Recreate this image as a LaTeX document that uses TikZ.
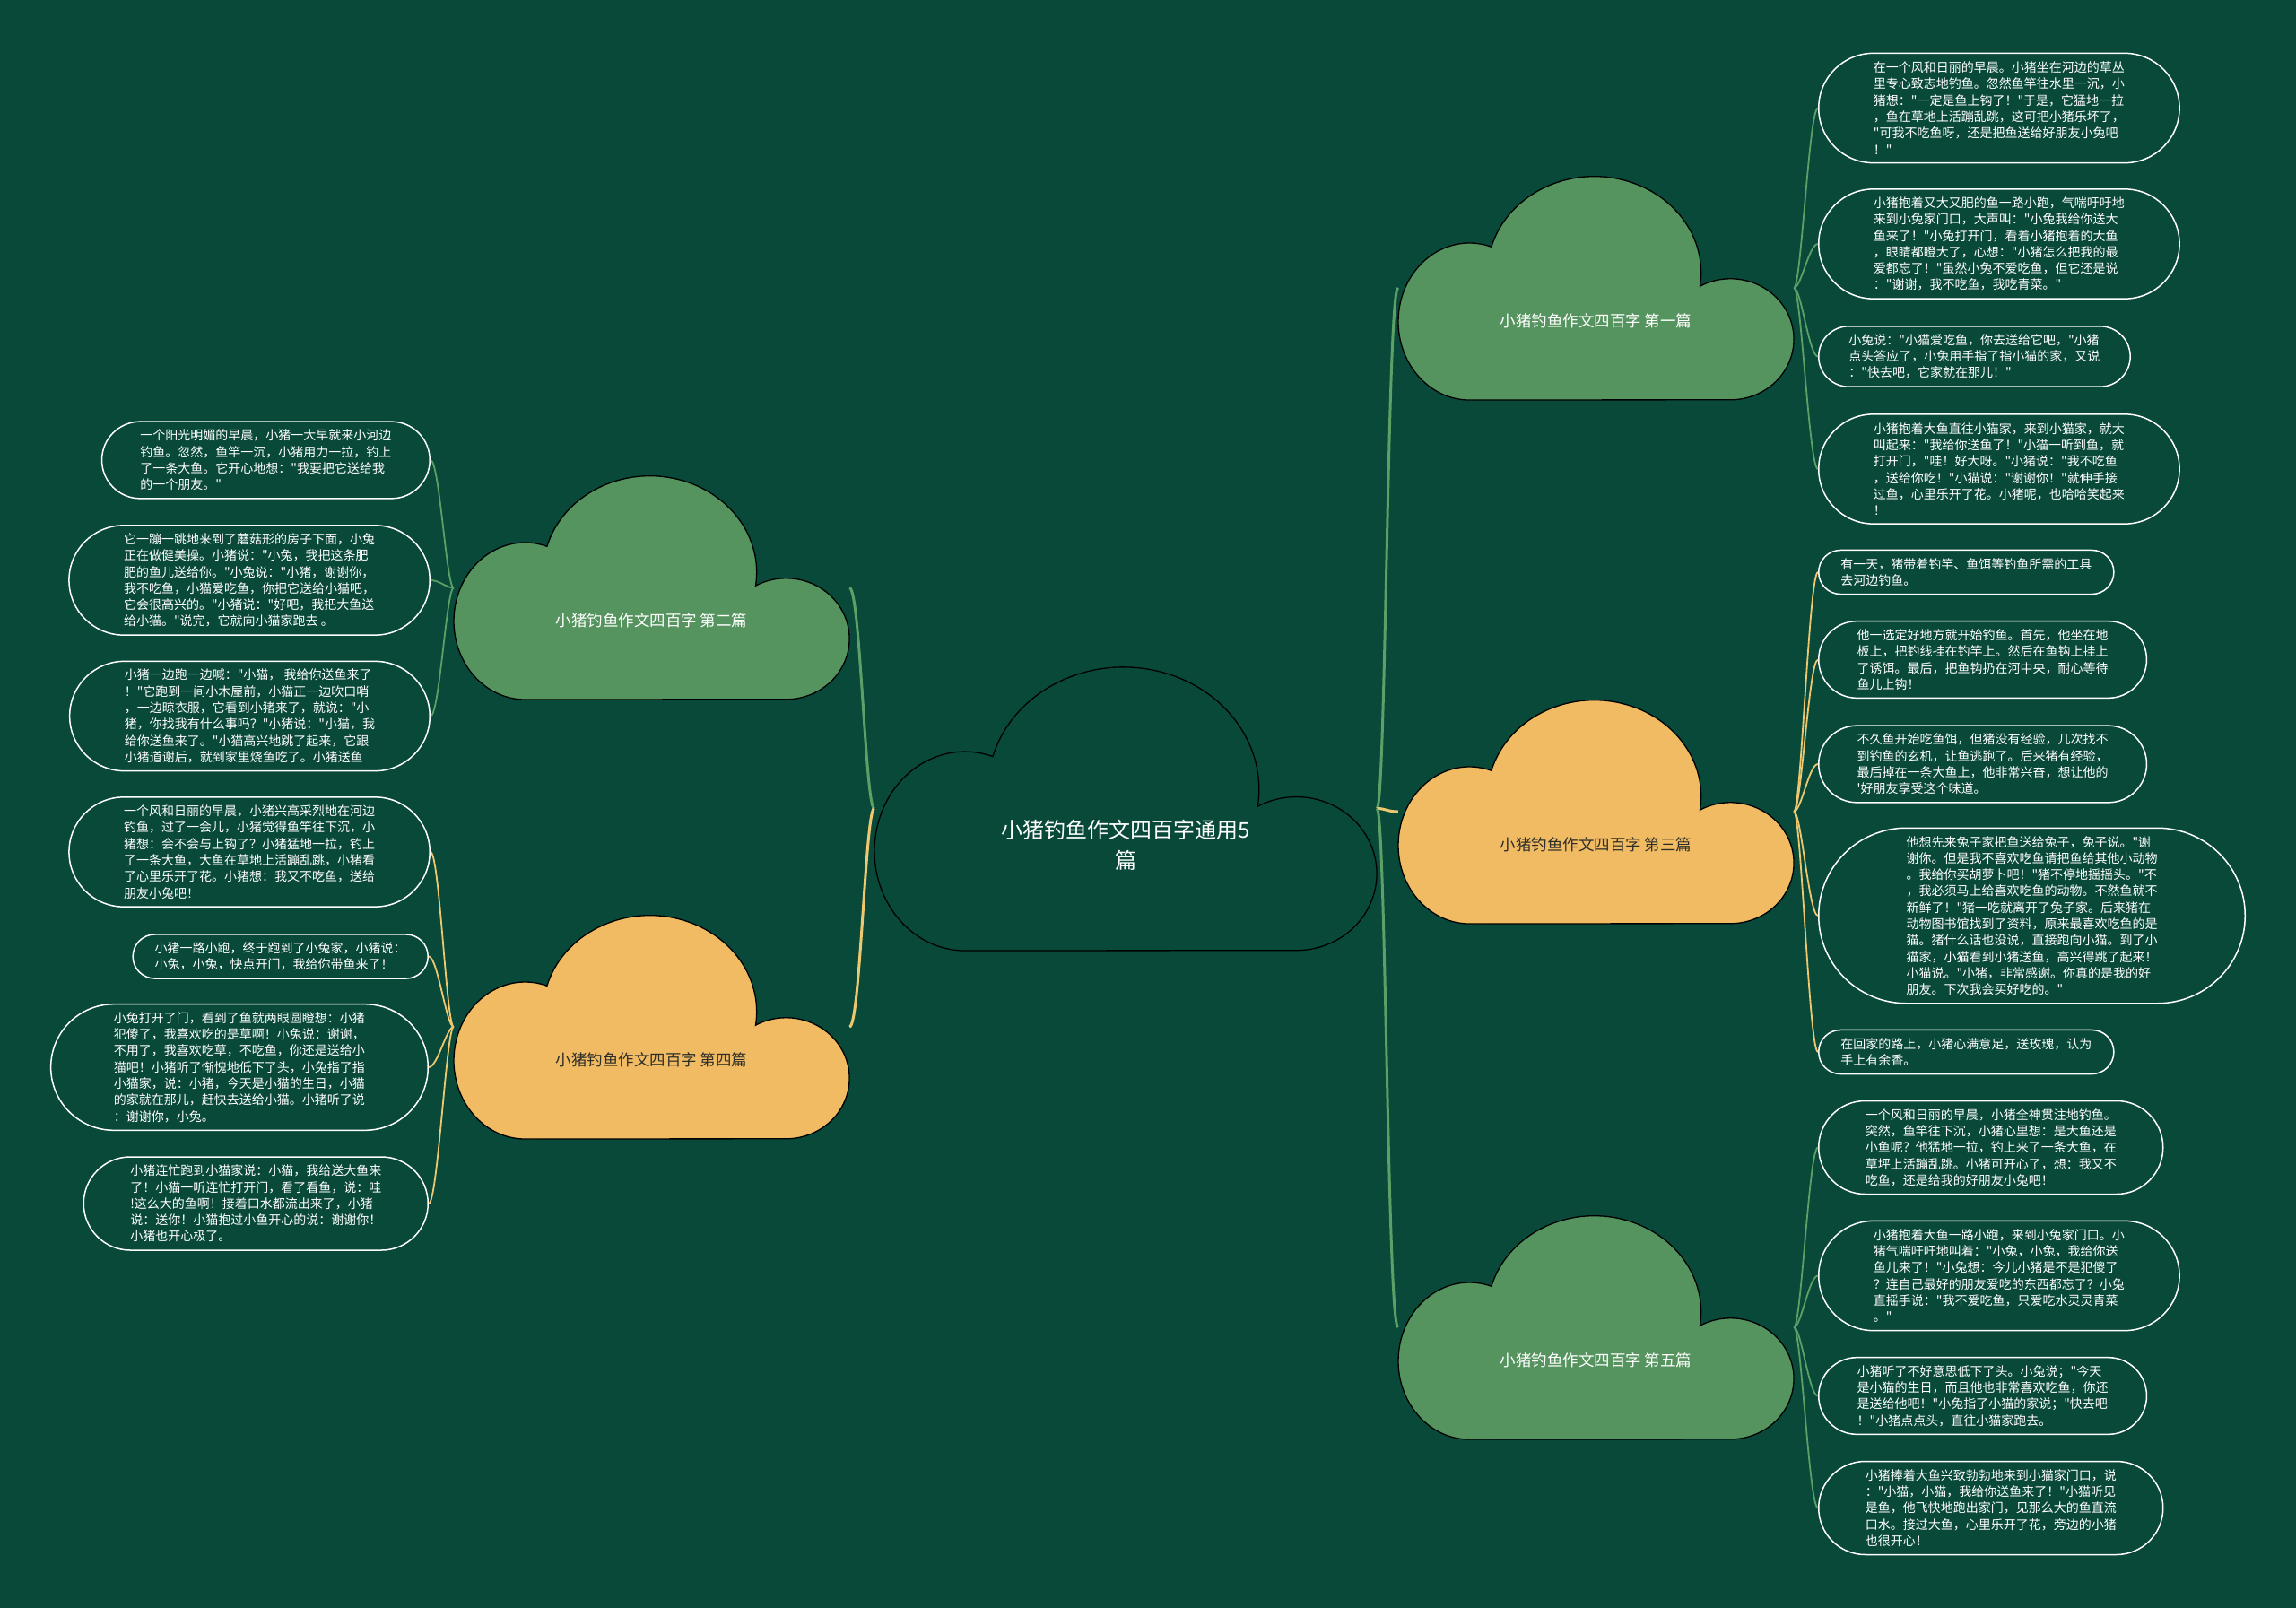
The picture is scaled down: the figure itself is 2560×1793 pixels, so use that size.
\documentclass[tikz,border=0pt]{standalone}
\usepackage{fontspec}
\setmainfont{Noto Sans CJK SC}[Ligatures=TeXOff]
\usetikzlibrary{shapes.misc}
\definecolor{bg}{RGB}{9,73,57}
\definecolor{cgreen}{RGB}{85,148,94}
\definecolor{cyellow}{RGB}{240,187,98}
\definecolor{lgreen}{RGB}{92,160,104}
\definecolor{lyellow}{RGB}{238,200,112}
\definecolor{darktext}{RGB}{45,45,40}
\newcommand{\mycloud}[5]{\begin{scope}[shift={(#1,#2)},xscale=#3,yscale=-#4]\path[#5] (0.18,0) arc[start angle=270,end angle=72,x radius=0.18,y radius=0.35] arc[start angle=164.4,end angle=-8,x radius=0.27,y radius=0.43] arc[start angle=118.8,end angle=-90,x radius=0.16,y radius=0.27] -- cycle;\end{scope}}
\tikzset{
  lf/.style={draw=white, line width=1.5pt, rectangle, inner ysep=0pt, minimum height=#1*18.3pt+12.5pt, inner xsep=#1*9.15pt+6.25pt, rounded corners=#1*9.15pt+6.2pt, align=left, text=white, font=\fontsize{14}{18.3}\selectfont},
  lfr/.style={lf=#1, anchor=west},
  lfl/.style={lf=#1, anchor=east},
  cbox/.style={inner sep=0pt, minimum width=441pt, minimum height=250pt},
  ctw/.style={text=white, font=\fontsize{17.5}{21}\selectfont},
  cty/.style={text=darktext, font=\fontsize{17.5}{21}\selectfont},
  mg/.style={draw=lgreen, line width=3pt},
  my/.style={draw=lyellow, line width=3pt},
  sg/.style={draw=lgreen, line width=1.8pt},
  sy/.style={draw=lyellow, line width=1.8pt},
  cshape/.style={draw=black, line width=1.3pt}
}
\begin{document}
\begin{tikzpicture}[x=1pt,y=-1pt]
\fill[bg] (0,0) rectangle (2560,1793);
\useasboundingbox (0,0) rectangle (2560,1793);
% invisible boxes of the clouds
\node[inner sep=0pt, minimum width=560pt, minimum height=317pt] (c0) at (1255,901.5) {};
\node[cbox] (c1) at (1779.5,321) {};
\node[cbox] (c2) at (726.5,655.5) {};
\node[cbox] (c3) at (1779.5,905) {};
\node[cbox] (c4) at (726.5,1145) {};
\node[cbox] (c5) at (1779.5,1480) {};
% right leaves
\node[lfr=6] (r1) at (2027,120.5) {在一个风和日丽的早晨。小猪坐在河边的草丛\\里专心致志地钓鱼。忽然鱼竿往水里一沉，小\\猪想："一定是鱼上钩了！"于是，它猛地一拉\\，鱼在草地上活蹦乱跳，这可把小猪乐坏了，\\"可我不吃鱼呀，还是把鱼送给好朋友小兔吧\\！"};
\node[lfr=6] (r2) at (2027,272) {小猪抱着又大又肥的鱼一路小跑，气喘吁吁地\\来到小兔家门口，大声叫："小兔我给你送大\\鱼来了！"小兔打开门，看着小猪抱着的大鱼\\，眼睛都瞪大了，心想："小猪怎么把我的最\\爱都忘了！"虽然小兔不爱吃鱼，但它还是说\\："谢谢，我不吃鱼，我吃青菜。"};
\node[lfr=3] (r3) at (2027,397.5) {小兔说："小猫爱吃鱼，你去送给它吧，"小猪\\点头答应了，小兔用手指了指小猫的家，又说\\："快去吧，它家就在那儿！"};
\node[lfr=6] (r4) at (2027,523) {小猪抱着大鱼直往小猫家，来到小猫家，就大\\叫起来："我给你送鱼了！"小猫一听到鱼，就\\打开门，"哇！好大呀。"小猪说："我不吃鱼\\，送给你吃！"小猫说："谢谢你！"就伸手接\\过鱼，心里乐开了花。小猪呢，也哈哈笑起来\\！};
\node[lfr=2] (r5) at (2027,638) {有一天，猪带着钓竿、鱼饵等钓鱼所需的工具\\去河边钓鱼。};
\node[lfr=4] (r6) at (2027,735.5) {他一选定好地方就开始钓鱼。首先，他坐在地\\板上，把钓线挂在钓竿上。然后在鱼钩上挂上\\了诱饵。最后，把鱼钩扔在河中央，耐心等待\\鱼儿上钩！};
\node[lfr=4] (r7) at (2027,852) {不久鱼开始吃鱼饵，但猪没有经验，几次找不\\到钓鱼的玄机，让鱼逃跑了。后来猪有经验，\\最后掉在一条大鱼上，他非常兴奋，想让他的\\'好朋友享受这个味道。};
\node[lfr=10] (r8) at (2027,1021) {他想先来兔子家把鱼送给兔子，兔子说。"谢\\谢你。但是我不喜欢吃鱼请把鱼给其他小动物\\。我给你买胡萝卜吧！"猪不停地摇摇头。"不\\，我必须马上给喜欢吃鱼的动物。不然鱼就不\\新鲜了！"猪一吃就离开了兔子家。后来猪在\\动物图书馆找到了资料，原来最喜欢吃鱼的是\\猫。猪什么话也没说，直接跑向小猫。到了小\\猫家，小猫看到小猪送鱼，高兴得跳了起来！\\小猫说。"小猪，非常感谢。你真的是我的好\\朋友。下次我会买好吃的。"};
\node[lfr=2] (r9) at (2027,1173) {在回家的路上，小猪心满意足，送玫瑰，认为\\手上有余香。};
\node[lfr=5] (r10) at (2027,1279.5) {一个风和日丽的早晨，小猪全神贯注地钓鱼。\\突然，鱼竿往下沉，小猪心里想：是大鱼还是\\小鱼呢？他猛地一拉，钓上来了一条大鱼，在\\草坪上活蹦乱跳。小猪可开心了，想：我又不\\吃鱼，还是给我的好朋友小兔吧！};
\node[lfr=6] (r11) at (2027,1422.5) {小猪抱着大鱼一路小跑，来到小兔家门口。小\\猪气喘吁吁地叫着："小兔，小兔，我给你送\\鱼儿来了！"小兔想：今儿小猪是不是犯傻了\\？连自己最好的朋友爱吃的东西都忘了？小兔\\直摇手说："我不爱吃鱼，只爱吃水灵灵青菜\\。"};
\node[lfr=4] (r12) at (2027,1556.5) {小猪听了不好意思低下了头。小兔说；"今天\\是小猫的生日，而且他也非常喜欢吃鱼，你还\\是送给他吧！"小兔指了小猫的家说；"快去吧\\！"小猪点点头，直往小猫家跑去。};
\node[lfr=5] (r13) at (2027,1681.5) {小猪捧着大鱼兴致勃勃地来到小猫家门口，说\\："小猫，小猫，我给你送鱼来了！"小猫听见\\是鱼，他飞快地跑出家门，见那么大的鱼直流\\口水。接过大鱼，心里乐开了花，旁边的小猪\\也很开心！};
% left leaves
\node[lfl=4] (l1) at (480,513) {一个阳光明媚的早晨，小猪一大早就来小河边\\钓鱼。忽然，鱼竿一沉，小猪用力一拉，钓上\\了一条大鱼。它开心地想："我要把它送给我\\的一个朋友。"};
\node[lfl=6] (l2) at (480,647) {它一蹦一跳地来到了蘑菇形的房子下面，小兔\\正在做健美操。小猪说："小兔，我把这条肥\\肥的鱼儿送给你。"小兔说："小猪，谢谢你，\\我不吃鱼，小猫爱吃鱼，你把它送给小猫吧，\\它会很高兴的。"小猪说："好吧，我把大鱼送\\给小猫。"说完，它就向小猫家跑去 。};
\node[lfl=6] (l3) at (480,798.5) {小猪一边跑一边喊："小猫， 我给你送鱼来了\\！"它跑到一间小木屋前，小猫正一边吹口哨\\，一边晾衣服，它看到小猪来了，就说："小\\猪，你找我有什么事吗？"小猪说："小猫，我\\给你送鱼来了。"小猫高兴地跳了起来，它跟\\小猪道谢后，就到家里烧鱼吃了。小猪送鱼};
\node[lfl=6] (l4) at (480,950) {一个风和日丽的早晨，小猪兴高采烈地在河边\\钓鱼，过了一会儿，小猪觉得鱼竿往下沉，小\\猪想：会不会与上钩了？小猪猛地一拉，钓上\\了一条大鱼，大鱼在草地上活蹦乱跳，小猪看\\了心里乐开了花。小猪想：我又不吃鱼，送给\\朋友小兔吧！};
\node[lfl=2] (l5) at (478,1066.5) {小猪一路小跑，终于跑到了小兔家，小猪说：\\小兔，小兔，快点开门，我给你带鱼来了！};
\node[lfl=7] (l6) at (478,1190) {小兔打开了门，看到了鱼就两眼圆瞪想：小猪\\犯傻了，我喜欢吃的是草啊！小兔说：谢谢，\\不用了，我喜欢吃草，不吃鱼，你还是送给小\\猫吧！小猪听了惭愧地低下了头，小兔指了指\\小猫家，说：小猪，今天是小猫的生日，小猫\\的家就在那儿，赶快去送给小猫。小猪听了说\\：谢谢你，小兔。};
\node[lfl=5] (l7) at (478,1342) {小猪连忙跑到小猫家说：小猫，我给送大鱼来\\了！小猫一听连忙打开门，看了看鱼，说：哇\\!这么大的鱼啊！接着口水都流出来了，小猪\\说：送你！小猫抱过小鱼开心的说：谢谢你！\\小猪也开心极了。};
% connectors centre -> chapters
\draw[mg] (c0.east) .. controls +(10,0) and +(-12,0) .. (c1.west);
\draw[my] (c0.east) .. controls +(10,0) and +(-12,0) .. (c3.west);
\draw[mg] (c0.east) .. controls +(10,0) and +(-12,0) .. (c5.west);
\draw[mg] (c0.west) .. controls +(-10,0) and +(12,0) .. (c2.east);
\draw[my] (c0.west) .. controls +(-10,0) and +(12,0) .. (c4.east);
% connectors chapters -> leaves
\foreach \l in {r1,r2,r3,r4} \draw[sg] (c1.east) .. controls +(8,0) and +(-10,0) .. (\l.west);
\foreach \l in {r5,r6,r7,r8,r9} \draw[sy] (c3.east) .. controls +(8,0) and +(-10,0) .. (\l.west);
\foreach \l in {r10,r11,r12,r13} \draw[sg] (c5.east) .. controls +(8,0) and +(-10,0) .. (\l.west);
\foreach \l in {l1,l2,l3} \draw[sg] (c2.west) .. controls +(-8,0) and +(10,0) .. (\l.east);
\foreach \l in {l4,l5,l6,l7} \draw[sy] (c4.west) .. controls +(-8,0) and +(10,0) .. (\l.east);
% cloud shapes
\mycloud{975}{1060}{560}{317}{cshape}
\mycloud{1559}{446}{441}{250}{cshape,fill=cgreen}
\mycloud{506}{780}{441}{250}{cshape,fill=cgreen}
\mycloud{1559}{1030}{441}{250}{cshape,fill=cyellow}
\mycloud{506}{1270}{441}{250}{cshape,fill=cyellow}
\mycloud{1559}{1605}{441}{250}{cshape,fill=cgreen}
% cloud texts
\node[text=white, align=center, font=\fontsize{24}{34}\selectfont] (c0t) at (1255,942) {小猪钓鱼作文四百字通用5\\篇};
\node[ctw] (c1t) at (1779.5,358) {小猪钓鱼作文四百字 第一篇};
\node[ctw] (c2t) at (726.5,692) {小猪钓鱼作文四百字 第二篇};
\node[cty] (c3t) at (1779.5,942) {小猪钓鱼作文四百字 第三篇};
\node[cty] (c4t) at (726.5,1182) {小猪钓鱼作文四百字 第四篇};
\node[ctw] (c5t) at (1779.5,1517) {小猪钓鱼作文四百字 第五篇};
\end{tikzpicture}
\end{document}
